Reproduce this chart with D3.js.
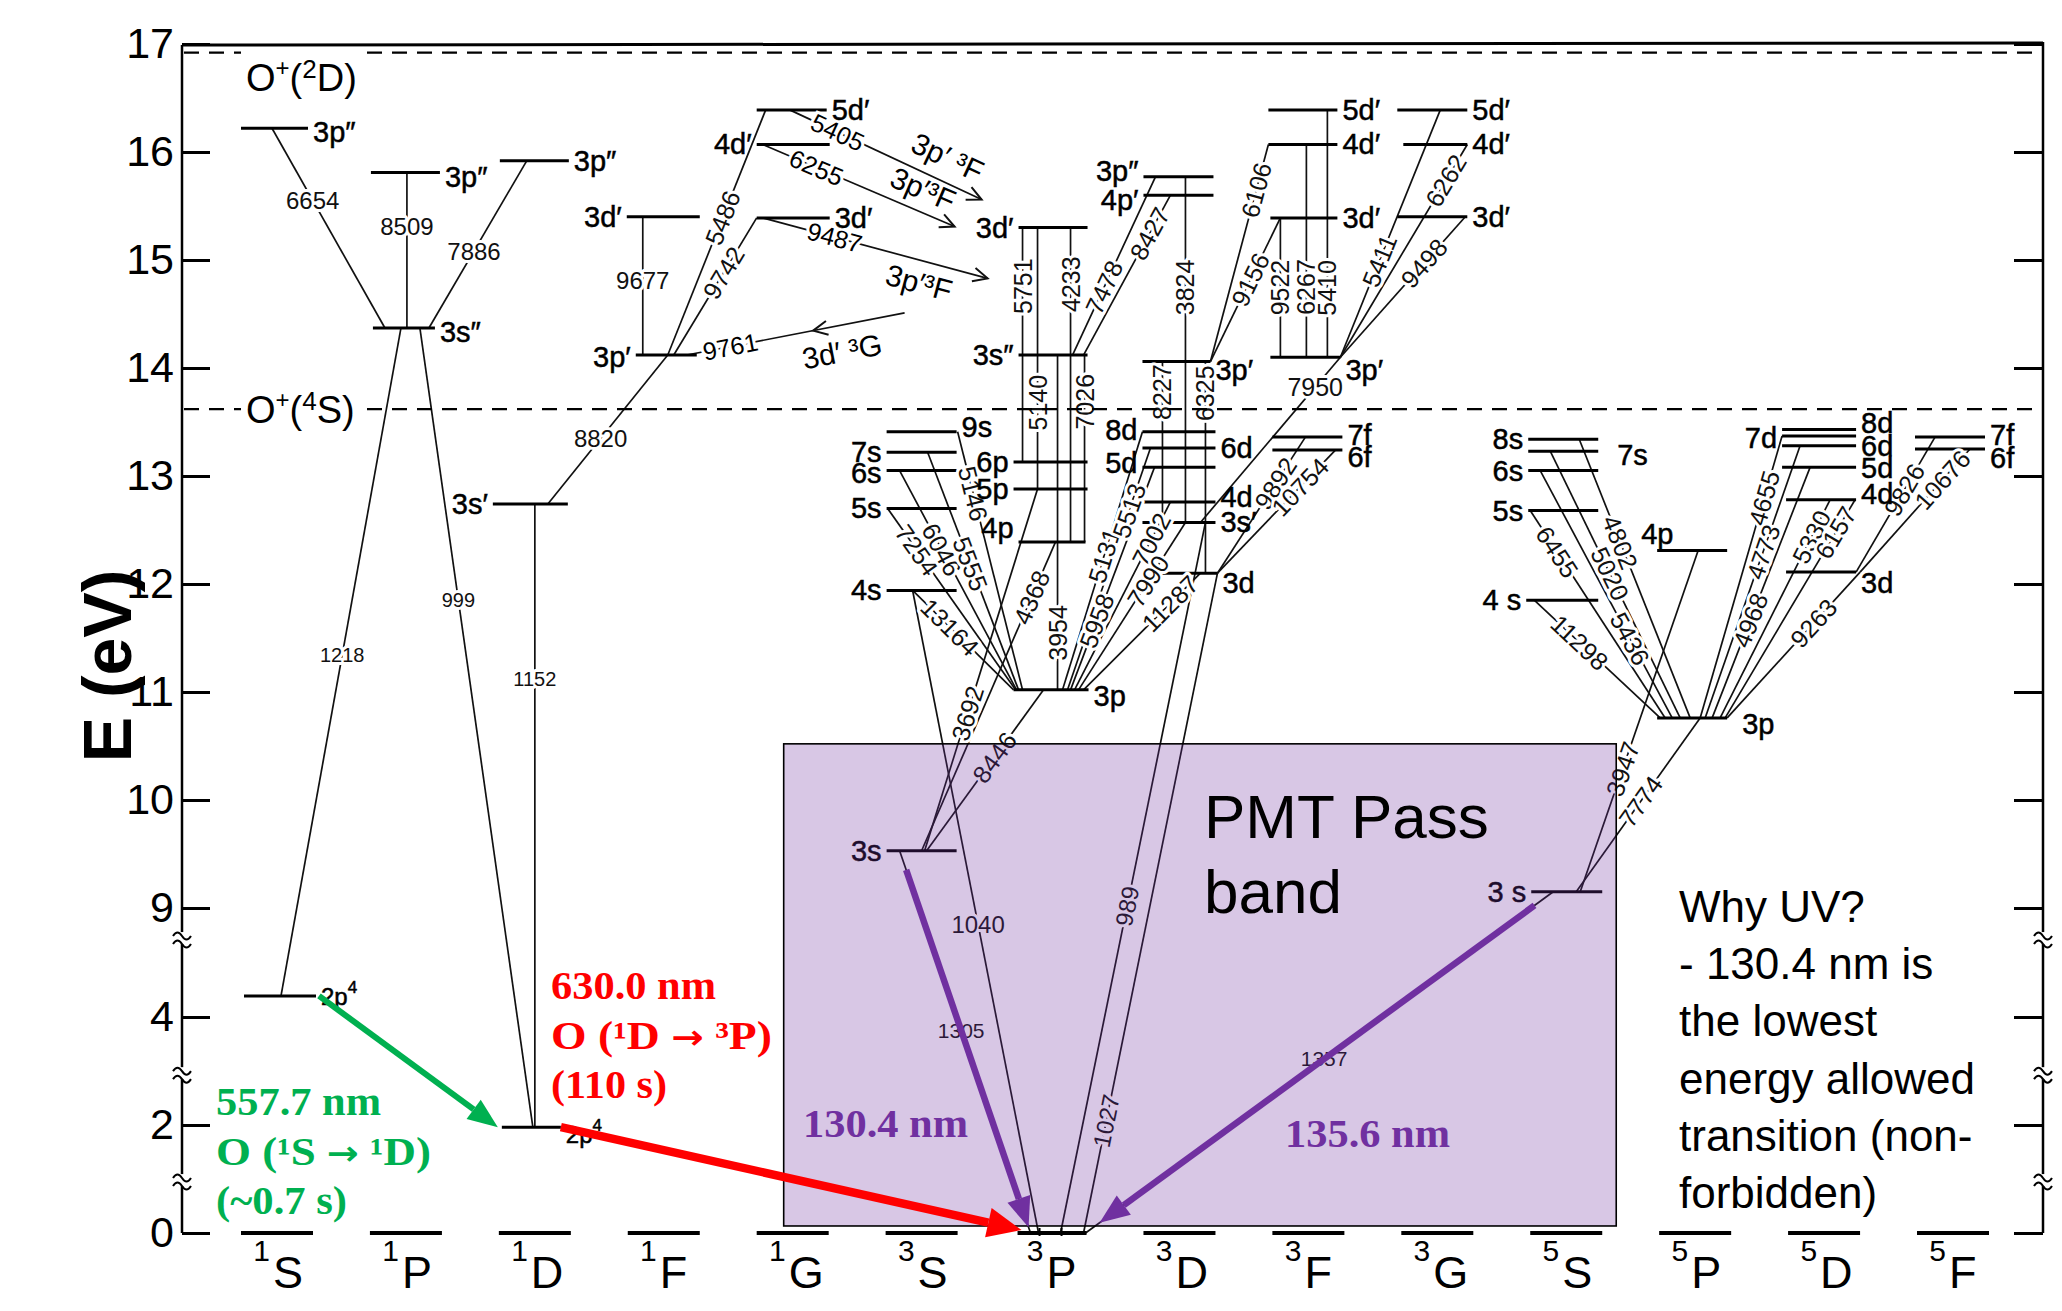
<!DOCTYPE html>
<html><head><meta charset="utf-8">
<script src="https://cdn.jsdelivr.net/npm/d3@7"></script>
<style>
html,body{margin:0;padding:0;background:#fff;}
svg{display:block;}
</style></head><body>
<svg id="chart" width="2062" height="1311"></svg>
<script>
// ================= DATA =================
const terms = ["1S","1P","1D","1F","1G","3S","3P","3D","3F","3G","5S","5P","5D","5F"];
const termMult = ["1","1","1","1","1","3","3","3","3","3","5","5","5","5"];
const termLetter = ["S","P","D","F","G","S","P","D","F","G","S","P","D","F"];
const energyTicks = [0,2,4,9,10,11,12,13,14,15,16,17];
const axisBreaks = [0.98, 2.96, 7.35];
const ionLimits = [{ion:"O", charge:"+", mult:"2", L:"D", E:16.92},{ion:"O", charge:"+", mult:"4", L:"S", E:13.62}];

const levels = [
 {id:"s1_2p4", term:"1S", cfg:"2p⁴", E:4.39},
 {id:"s1_3pp", term:"1S", cfg:"3p″", E:16.22},
 {id:"p1_3pp", term:"1P", cfg:"3p″", E:15.81},
 {id:"p1_3spp", term:"1P", cfg:"3s″", E:14.37},
 {id:"d1_3pp", term:"1D", cfg:"3p″", E:15.92},
 {id:"d1_3sp", term:"1D", cfg:"3s′", E:12.74},
 {id:"d1_2p4", term:"1D", cfg:"2p⁴", E:1.96},
 {id:"f1_3dp", term:"1F", cfg:"3d′", E:15.40},
 {id:"f1_3pp", term:"1F", cfg:"3p′", E:14.12},
 {id:"g1_5dp", term:"1G", cfg:"5d′", E:16.39},
 {id:"g1_4dp", term:"1G", cfg:"4d′", E:16.07},
 {id:"g1_3dp", term:"1G", cfg:"3d′", E:15.39},
 {id:"s3_9s", term:"3S", cfg:"9s", E:13.41},
 {id:"s3_7s", term:"3S", cfg:"7s", E:13.22},
 {id:"s3_6s", term:"3S", cfg:"6s", E:13.05},
 {id:"s3_5s", term:"3S", cfg:"5s", E:12.70},
 {id:"s3_4s", term:"3S", cfg:"4s", E:11.94},
 {id:"s3_3s", term:"3S", cfg:"3s", E:9.53},
 {id:"p3_3dp", term:"3P", cfg:"3d′", E:15.30},
 {id:"p3_3spp", term:"3P", cfg:"3s″", E:14.12},
 {id:"p3_6p", term:"3P", cfg:"6p", E:13.13},
 {id:"p3_5p", term:"3P", cfg:"5p", E:12.88},
 {id:"p3_4p", term:"3P", cfg:"4p", E:12.39},
 {id:"p3_3p", term:"3P", cfg:"3p", E:11.02},
 {id:"d3_3ppp", term:"3D", cfg:"3p″", E:15.77},
 {id:"d3_4pp", term:"3D", cfg:"4p′", E:15.60},
 {id:"d3_3pp", term:"3D", cfg:"3p′", E:14.06},
 {id:"d3_8d", term:"3D", cfg:"8d", E:13.41},
 {id:"d3_6d", term:"3D", cfg:"6d", E:13.26},
 {id:"d3_5d", term:"3D", cfg:"5d", E:13.08},
 {id:"d3_4d", term:"3D", cfg:"4d", E:12.76},
 {id:"d3_3sp", term:"3D", cfg:"3s′", E:12.57},
 {id:"d3_3d", term:"3D", cfg:"3d", E:12.10},
 {id:"f3_5dp", term:"3F", cfg:"5d′", E:16.39},
 {id:"f3_4dp", term:"3F", cfg:"4d′", E:16.07},
 {id:"f3_3dp", term:"3F", cfg:"3d′", E:15.39},
 {id:"f3_3pp", term:"3F", cfg:"3p′", E:14.10},
 {id:"f3_7f", term:"3F", cfg:"7f", E:13.36},
 {id:"f3_6f", term:"3F", cfg:"6f", E:13.24},
 {id:"g3_5dp", term:"3G", cfg:"5d′", E:16.39},
 {id:"g3_4dp", term:"3G", cfg:"4d′", E:16.07},
 {id:"g3_3dp", term:"3G", cfg:"3d′", E:15.40},
 {id:"s5_8s", term:"5S", cfg:"8s", E:13.34},
 {id:"s5_7s", term:"5S", cfg:"7s", E:13.23},
 {id:"s5_6s", term:"5S", cfg:"6s", E:13.05},
 {id:"s5_5s", term:"5S", cfg:"5s", E:12.68},
 {id:"s5_4s", term:"5S", cfg:"4 s", E:11.85},
 {id:"s5_3s", term:"5S", cfg:"3 s", E:9.15},
 {id:"p5_4p", term:"5P", cfg:"4p", E:12.31},
 {id:"p5_3p", term:"5P", cfg:"3p", E:10.76},
 {id:"d5_8d", term:"5D", cfg:"8d", E:13.43},
 {id:"d5_7d", term:"5D", cfg:"7d", E:13.37},
 {id:"d5_6d", term:"5D", cfg:"6d", E:13.28},
 {id:"d5_5d", term:"5D", cfg:"5d", E:13.08},
 {id:"d5_4d", term:"5D", cfg:"4d", E:12.78},
 {id:"d5_3d", term:"5D", cfg:"3d", E:12.11},
 {id:"f5_7f", term:"5F", cfg:"7f", E:13.36},
 {id:"f5_6f", term:"5F", cfg:"6f", E:13.25}
];
const groundLevels = terms.map(t => ({id:"g_"+t, term:t, cfg:"", E:0}));

// transitions: wavelength (Å), upper level, lower level
const transitions = [
 ["6654","s1_3pp","p1_3spp"],["8509","p1_3pp","p1_3spp"],["7886","d1_3pp","p1_3spp"],
 ["1218","p1_3spp","s1_2p4"],["999","p1_3spp","d1_2p4"],["1152","d1_3sp","d1_2p4"],
 ["8820","d1_3sp","f1_3pp"],["9677","f1_3dp","f1_3pp"],["5486","f1_3pp","g1_5dp"],
 ["9742","f1_3pp","g1_3dp"],
 ["5751","p3_3dp","p3_6p"],["5140","p3_3dp","p3_5p"],["4233","p3_3dp","p3_4p"],
 ["7026","p3_3spp","p3_4p"],["3954","p3_3spp","p3_3p"],
 ["4368","p3_4p","s3_3s"],["3692","p3_5p","s3_3s"],["8446","p3_3p","s3_3s"],
 ["13164","s3_4s","p3_3p"],["7254","s3_5s","p3_3p"],["6046","s3_6s","p3_3p"],
 ["5555","s3_7s","p3_3p"],["5146","s3_9s","p3_3p"],
 ["1040","s3_4s","g_3P"],["1305","s3_3s","g_3P"],
 ["5131","d3_8d","p3_3p"],["5513","d3_6d","p3_3p"],["5958","d3_5d","p3_3p"],
 ["7002","d3_4d","p3_3p"],["7990","d3_3sp","p3_3p"],["11287","d3_3d","p3_3p"],
 ["3824","d3_3ppp","d3_3sp"],["8227","d3_3pp","d3_3sp"],["6325","d3_3pp","d3_3d"],
 ["7478","d3_3ppp","p3_3spp"],["8427","d3_4pp","p3_3spp"],
 ["6106","f3_4dp","d3_3pp"],["9156","f3_3dp","d3_3pp"],["7950","f3_3pp","d3_3sp"],
 ["9522","f3_3dp","f3_3pp"],["6267","f3_4dp","f3_3pp"],["5410","f3_5dp","f3_3pp"],
 ["5411","g3_5dp","f3_3pp"],["6262","g3_4dp","f3_3pp"],["9498","g3_3dp","f3_3pp"],
 ["9892","f3_7f","d3_3d"],["10754","f3_6f","d3_3d"],
 ["989","d3_3sp","g_3P"],["1027","d3_3d","g_3P"],
 ["11298","s5_4s","p5_3p"],["6455","s5_5s","p5_3p"],["5436","s5_6s","p5_3p"],
 ["5020","s5_7s","p5_3p"],["4802","s5_8s","p5_3p"],
 ["4655","d5_7d","p5_3p"],["4773","d5_6d","p5_3p"],["4968","d5_5d","p5_3p"],
 ["5330","d5_4d","p5_3p"],["6157","d5_4d","p5_3p"],["9263","d5_3d","p5_3p"],
 ["9826","f5_7f","d5_3d"],["10676","f5_6f","d5_3d"],
 ["7774","p5_3p","s5_3s"],["3947","p5_4p","s5_3s"],
 ["1357","s5_3s","g_3P"]
];

// transitions leaving the figure region (to 3p' 3F, from 3d' 3G)
const outArrows = [
 {wl:"5405", level:"g1_5dp", toTerm:"3S", toE:15.56, note:"3p′ ³F", dir:"out"},
 {wl:"6255", level:"g1_4dp", toTerm:"3S", toE:15.31, note:"3p′³F", dir:"out"},
 {wl:"9487", level:"g1_3dp", toTerm:"3S", toE:14.83, note:"3p′³F", dir:"out"},
 {wl:"9761", level:"f1_3pp", toTerm:"3S", toE:14.51, note:"3d′ ³G", dir:"in"}
];

const highlightLines = [
 {name:"557.7", from:"s1_2p4", to:"d1_2p4", color:"#00b050"},
 {name:"630.0", from:"d1_2p4", to:"g_3P", color:"#ff0000"},
 {name:"130.4", along:"1305", color:"#7030a0"},
 {name:"135.6", along:"1357", color:"#7030a0"}
];
const noteGreen = [["557.7 nm"],["O (¹S ","→"," ¹D)"],["(~0.7 s)"]];
const noteRed = [["630.0 nm"],["O (¹D ","→"," ³P)"],["(110 s)"]];
const notePurple = ["130.4 nm","135.6 nm"];
const bandText = ["PMT Pass","band"];
const bandE = [0.13, 10.52];
const whyText = ["Why UV?","- 130.4 nm is","the lowest","energy allowed","transition (non-","forbidden)"];

// ================= LAYOUT (positions / styles) =================
// level: [dx0, dx1, labelSide, labelDx, labelDy, fontSize]
const levelLayout = {
 s1_2p4:[-33,39,"r",0,0,24], s1_3pp:[-36,31,"r",0,4], p1_3pp:[-35,34,"r",0,4], p1_3spp:[-33,29,"r",0,4],
 d1_3pp:[-35,34,"r",0,0], d1_3sp:[-42,33,"l",0,0], d1_2p4:[-33,26,"r",0,7,24],
 f1_3dp:[-37,36,"l",0,0], f1_3pp:[-28,33,"l",0,2],
 g1_5dp:[-36,34,"r",0,0], g1_4dp:[-36,37,"l",0,0], g1_3dp:[-36,37,"r",0,0],
 s3_9s:[-35,35,"r",0,-5], s3_7s:[-35,35,"l",0,0], s3_6s:[-35,35,"l",0,2], s3_5s:[-35,35,"l",0,0],
 s3_4s:[-35,35,"l",0,0], s3_3s:[-35,35,"l",0,0],
 p3_3dp:[-32,37,"l",0,0], p3_3spp:[-32,37,"l",0,0], p3_6p:[-37,37,"l",0,0], p3_5p:[-37,37,"l",0,0],
 p3_4p:[-32,35,"l",0,-14], p3_3p:[-37,38,"r",0,6],
 d3_3ppp:[-36,34,"l",0,-6], d3_4pp:[-36,34,"l",0,5], d3_3pp:[-37,31,"r",0,8],
 d3_8d:[-37,36,"l",0,-2], d3_6d:[-37,36,"r",0,0], d3_5d:[-37,36,"l",0,-4], d3_4d:[-37,36,"r",0,-5],
 d3_3sp:[-37,36,"r",0,0], d3_3d:[-19,38,"r",0,10],
 f3_5dp:[-40,29,"r",0,0], f3_4dp:[-40,29,"r",0,0], f3_3dp:[-38,29,"r",0,0], f3_3pp:[-38,32,"r",0,13],
 f3_7f:[-36,34,"r",0,-2], f3_6f:[-36,34,"r",0,7],
 g3_5dp:[-40,30,"r",0,0], g3_4dp:[-34,30,"r",0,0], g3_3dp:[-40,30,"r",0,0],
 s5_8s:[-38,32,"l",0,0], s5_7s:[-38,32,"r",14,4], s5_6s:[-38,32,"l",0,0], s5_5s:[-38,32,"l",0,0],
 s5_4s:[-40,32,"l",0,0], s5_3s:[-35,36,"l",0,0],
 p5_4p:[-38,32,"a",-16,-17], p5_3p:[-38,32,"r",10,6],
 d5_8d:[-42,32,"r",0,-7], d5_7d:[-42,32,"l",0,2], d5_6d:[-42,32,"r",0,0], d5_5d:[-42,32,"r",0,1],
 d5_4d:[-38,32,"r",0,-6], d5_3d:[-38,32,"r",0,11],
 f5_7f:[-38,32,"r",0,-2], f5_6f:[-38,32,"r",0,9]
};
// transition: [fromDx, toDx, labelT, mode(h=horizontal, r=along line), fontSize]
const transLayout = {
 "6654":[-5,-21,0.36,"h",24], "8509":[1,1,0.35,"h",24], "7886":[-8,23,0.54,"h",24],
 "1218":[-5,4,0.49,"h",20], "999":[14,-2,0.34,"h",20], "1152":[0,0,0.28,"h",20],
 "8820":[13,4,0.44,"h",24], "9677":[-21,-21,0.46,"h",24], "5486":[4,-27,0.56,"r",25],
 "9742":[10,-36,0.6,"r",25],
 "5751":[-28,-28,0.25,"r",25], "5140":[-13,-13,0.67,"r",25], "4233":[20,20,0.18,"r",25],
 "7026":[34,34,0.25,"r",25], "3954":[7,7,0.83,"r",25],
 "4368":[5,0,0.18,"r",25], "3692":[-13,3,0.62,"r",25], "8446":[-7,5,0.42,"r",25],
 "13164":[-9,-37,0.37,"r",25], "7254":[-34,-35,0.23,"r",25], "6046":[-22,-34,0.36,"r",25],
 "5555":[6,-32,0.47,"r",25], "5146":[36,-28,0.24,"r",25],
 "1040":[-9,-12,0.52,"h",24], "1305":[-22,-20,0.47,"h",21],
 "5131":[-37,12,0.48,"r",25], "5513":[-29,17,0.26,"r",25], "5958":[-25,20,0.69,"r",25],
 "7002":[-9,24,0.2,"r",25], "7990":[6,28,0.35,"r",25], "11287":[21,33,0.26,"r",25],
 "3824":[6,6,0.32,"r",25], "8227":[-17,-17,0.19,"r",25], "6325":[26,26,0.15,"r",25],
 "7478":[-24,22,0.62,"r",25], "8427":[-9,33,0.24,"r",25],
 "6106":[-40,31,0.21,"r",25], "9156":[-28,31,0.43,"r",25], "7950":[32,21,0.18,"h",25],
 "9522":[-28,-28,0.5,"r",25], "6267":[-2,-2,0.67,"r",25], "5410":[19,19,0.72,"r",25],
 "5411":[3,32,0.61,"r",25], "6262":[30,32,0.17,"r",25], "9498":[28,32,0.33,"r",25],
 "9892":[-3,38,0.34,"r",25], "10754":[27,38,0.3,"r",25],
 "989":[26,10,0.54,"r",24], "1027":[38,33,0.83,"r",24],
 "11298":[-32,-35,0.36,"r",25], "6455":[-36,-30,0.2,"r",25], "5436":[-26,-23,0.68,"r",25],
 "5020":[-16,-15,0.46,"r",25], "4802":[13,-5,0.37,"r",25],
 "4655":[-42,5,0.22,"r",25], "4773":[-24,10,0.39,"r",25], "4968":[-14,17,0.61,"r",25],
 "5330":[6,25,0.17,"r",25], "6157":[31,30,0.15,"r",25], "9263":[36,32,0.35,"r",25],
 "9826":[-18,32,0.39,"r",25], "10676":[17,36,0.25,"r",25],
 "7774":[5,10,0.48,"r",25], "3947":[3,14,0.64,"r",25],
 "1357":[-13,35,0.49,"h",21]
};
// out arrows: [levelDx, toDx, labelT, noteT, noteOffset, headT]
const outLayout = {
 "5405":[-3,60,0.25,0.77,-24,1], "6255":[-30,33,0.28,0.79,-22,1],
 "9487":[-30,66,0.32,0.72,22,1], "9761":[23,-17,0.2,0.69,26,0.58]
};

// ================= DRAW =================
const sans = "'Liberation Sans', Arial, Helvetica, sans-serif";
const serif = "'Liberation Serif', 'Times New Roman', serif";
const svg = d3.select("#chart");
const x = d3.scalePoint().domain(terms).range([277,1953]);
const y = d3.scaleLinear().domain([0,4.5,9,17]).range([1233,990,908,44]);
const xL = 182, xR = 2043, yTop = 45;

const allLevels = levels.concat(groundLevels);
const levelById = new Map(allLevels.map(d => [d.id, d]));
function pt(id, dx){ const l = levelById.get(id); return [x(l.term)+dx, y(l.E)]; }

const gLines = svg.append("g");
const gLevels = svg.append("g");
const gLabels = svg.append("g");

// frame top
svg.append("line").attr("x1",xL).attr("x2",xR).attr("y1",yTop).attr("y2",yTop-2)
  .attr("stroke","#000").attr("stroke-width",3);

// axes
const axL = d3.axisLeft(y).tickValues(energyTicks).tickSizeInner(-28).tickSizeOuter(0).tickPadding(8);
const gAxL = svg.append("g").attr("transform",`translate(${xL},0)`).call(axL);
gAxL.selectAll(".domain").attr("stroke","#000").attr("stroke-width",2.5).attr("d",`M0,${yTop}V${y(0)}`);
gAxL.selectAll(".tick line").attr("stroke","#000").attr("stroke-width",3);
gAxL.selectAll(".tick text").attr("font-size",43).attr("font-family",sans).attr("fill","#000");
const axR = d3.axisRight(y).tickValues(energyTicks).tickSizeInner(-29).tickSizeOuter(0).tickFormat("");
const gAxR = svg.append("g").attr("transform",`translate(${xR},0)`).call(axR);
gAxR.selectAll(".domain").attr("stroke","#000").attr("stroke-width",2.5).attr("d",`M0,${yTop-3}V${y(0)}`);
gAxR.selectAll(".tick line").attr("stroke","#000").attr("stroke-width",3);

// axis breaks
[xL, xR].forEach(ax => {
  axisBreaks.forEach(E => {
    const yy = y(E);
    svg.append("rect").attr("x",ax-8).attr("y",yy-6).attr("width",16).attr("height",12).attr("fill","#fff");
    [-4,4].forEach(o => svg.append("path")
      .attr("d",`M${ax-9},${yy+o+2}q4.5,-7 9,0t9,0`)
      .attr("fill","none").attr("stroke","#000").attr("stroke-width",2));
  });
});

// axis title
svg.append("text").attr("transform","translate(131,666) rotate(-90)")
  .attr("text-anchor","middle").attr("font-family",sans).attr("font-weight","bold")
  .attr("font-size",68).text("E (eV)");

// ionization limits
ionLimits.forEach((d,i) => {
  const yy = y(d.E);
  [[xL+2,241],[367,xR-3]].forEach(seg => svg.append("line")
    .attr("x1",seg[0]).attr("x2",seg[1]).attr("y1",yy).attr("y2",yy)
    .attr("stroke","#000").attr("stroke-width",2.2).attr("stroke-dasharray","15,10"));
  const t = svg.append("text").attr("x",246).attr("y", i===0 ? yy+38 : yy+14)
    .attr("font-family",sans).attr("font-size",38);
  t.append("tspan").text(d.ion);
  t.append("tspan").attr("font-size",24).attr("dy",-15).text(d.charge);
  t.append("tspan").attr("dy",15).text("(");
  t.append("tspan").attr("font-size",26).attr("dy",-13).text(d.mult);
  t.append("tspan").attr("dy",13).text(d.L + ")");
});

// transitions
transitions.forEach(([wl, from, to]) => {
  const L = transLayout[wl];
  const p1 = pt(from, L[0]), p2 = pt(to, L[1]);
  gLines.append("line").attr("x1",p1[0]).attr("y1",p1[1]).attr("x2",p2[0]).attr("y2",p2[1])
    .attr("stroke","#111").attr("stroke-width",1.7);
  const t = L[2];
  const lx = p1[0]+t*(p2[0]-p1[0]), ly = p1[1]+t*(p2[1]-p1[1]);
  let ang = 0;
  if (L[3]==="r") {
    ang = Math.atan2(p2[1]-p1[1], p2[0]-p1[0])*180/Math.PI;
    if (ang >= 90) ang -= 180;
    if (ang < -90) ang += 180;
  }
  gLabels.append("text").attr("transform",`translate(${lx},${ly}) rotate(${ang})`)
    .attr("text-anchor","middle").attr("dominant-baseline","central")
    .attr("font-family",sans).attr("font-size",L[4]||24)
    .attr("stroke","#fff").attr("stroke-width",6).attr("stroke-linejoin","round")
    .attr("paint-order","stroke").attr("fill","#111").text(wl);
});

// out arrows
outArrows.forEach(a => {
  const L = outLayout[a.wl];
  const p1 = pt(a.level, L[0]);
  const p2 = [x(a.toTerm)+L[1], y(a.toE)];
  gLines.append("line").attr("x1",p1[0]).attr("y1",p1[1]).attr("x2",p2[0]).attr("y2",p2[1])
    .attr("stroke","#111").attr("stroke-width",1.7);
  const ang = Math.atan2(p2[1]-p1[1], p2[0]-p1[0]);
  const ht = L[5];
  const hx = p1[0]+ht*(p2[0]-p1[0]), hy = p1[1]+ht*(p2[1]-p1[1]);
  const dirAng = a.dir==="out" ? ang : ang+Math.PI;
  const hl = 16, hw = 0.45;
  const path = `M${hx-hl*Math.cos(dirAng-hw)},${hy-hl*Math.sin(dirAng-hw)}L${hx},${hy}L${hx-hl*Math.cos(dirAng+hw)},${hy-hl*Math.sin(dirAng+hw)}`;
  gLines.append("path").attr("d",path).attr("fill","none").attr("stroke","#111").attr("stroke-width",2);
  let deg = ang*180/Math.PI; if (deg>=90) deg-=180; if (deg< -90) deg+=180;
  const lx = p1[0]+L[2]*(p2[0]-p1[0]), ly = p1[1]+L[2]*(p2[1]-p1[1]);
  gLabels.append("text").attr("transform",`translate(${lx},${ly}) rotate(${deg})`)
    .attr("text-anchor","middle").attr("dominant-baseline","central")
    .attr("font-family",sans).attr("font-size",25)
    .attr("stroke","#fff").attr("stroke-width",6).attr("paint-order","stroke").text(a.wl);
  const nx = p1[0]+L[3]*(p2[0]-p1[0]), ny = p1[1]+L[3]*(p2[1]-p1[1]);
  gLabels.append("text").attr("transform",`translate(${nx},${ny}) rotate(${deg}) translate(0,${L[4]})`)
    .attr("text-anchor","middle").attr("dominant-baseline","central")
    .attr("font-family",sans).attr("font-size",30).text(a.note);
});

// levels
levels.forEach(l => {
  const L = levelLayout[l.id];
  const cx = x(l.term), yy = y(l.E);
  gLevels.append("line").attr("x1",cx+L[0]).attr("x2",cx+L[1]).attr("y1",yy).attr("y2",yy)
    .attr("stroke","#000").attr("stroke-width",3);
  let tx, anchor;
  if (L[2]==="r") { tx = cx+L[1]+5+L[3]; anchor = "start"; }
  else if (L[2]==="l") { tx = cx+L[0]-5+L[3]; anchor = "end"; }
  else { tx = cx+L[0]+L[3]; anchor = "start"; }
  const t = gLabels.append("text").attr("x",tx).attr("y",yy+L[4]).attr("text-anchor",anchor)
    .attr("dominant-baseline","central").attr("font-family",sans)
    .attr("font-size",L[5]||29).attr("stroke","#000").attr("stroke-width",0.5);
  if (l.cfg.endsWith("⁴")) {
    t.append("tspan").text(l.cfg.slice(0,-1));
    t.append("tspan").attr("font-size",17).attr("dy",-9).text("4");
  } else t.text(l.cfg);
});

// ground levels and term labels
groundLevels.forEach((g,i) => {
  const cx = x(g.term), yy = y(0);
  if (g.term === "3P") {
    [[-33,-11],[-11,11],[11,36]].forEach(s => gLevels.append("line")
      .attr("x1",cx+s[0]).attr("x2",cx+s[1]).attr("y1",yy).attr("y2",yy)
      .attr("stroke","#000").attr("stroke-width",4));
    [-11,11].forEach(s => gLevels.append("line").attr("x1",cx+s).attr("x2",cx+s)
      .attr("y1",yy-5).attr("y2",yy+3).attr("stroke","#000").attr("stroke-width",2));
  } else {
    gLevels.append("line").attr("x1",cx-36).attr("x2",cx+36).attr("y1",yy).attr("y2",yy)
      .attr("stroke","#000").attr("stroke-width",4);
  }
  svg.append("text").attr("x",cx-7).attr("y",1261).attr("text-anchor","end")
    .attr("font-family",sans).attr("font-size",30).text(termMult[i]);
  svg.append("text").attr("x",cx-4).attr("y",1288).attr("text-anchor","start")
    .attr("font-family",sans).attr("font-size",45).text(termLetter[i]);
});

// PMT pass band (semi-transparent overlay)
const bx0 = x("1G")-9, bx1 = x("5S")+50, by0 = y(bandE[1]), by1 = y(bandE[0]);
svg.append("rect").attr("x",bx0).attr("y",by0).attr("width",bx1-bx0).attr("height",by1-by0)
  .attr("fill","#7030a0").attr("fill-opacity",0.27);
svg.append("rect").attr("x",bx0).attr("y",by0).attr("width",bx1-bx0).attr("height",by1-by0)
  .attr("fill","none").attr("stroke","#000").attr("stroke-width",1.6);

// highlighted arrows
function fatArrow(p1, p2, color, w, hl, hw) {
  const a = Math.atan2(p2[1]-p1[1], p2[0]-p1[0]);
  const bx = p2[0]-hl*Math.cos(a), by = p2[1]-hl*Math.sin(a);
  svg.append("line").attr("x1",p1[0]).attr("y1",p1[1]).attr("x2",bx).attr("y2",by)
    .attr("stroke",color).attr("stroke-width",w);
  const px = -Math.sin(a)*hw/2, py = Math.cos(a)*hw/2;
  svg.append("path").attr("d",`M${p2[0]},${p2[1]}L${bx+px},${by+py}L${bx-px},${by-py}Z`).attr("fill",color);
}
const transMap = new Map(transitions.map(t => [t[0], t]));
highlightLines.forEach(h => {
  if (h.along) {
    const tr = transMap.get(h.along), L = transLayout[h.along];
    const p1 = pt(tr[1], L[0]), p2 = pt(tr[2], L[1]);
    const t0 = h.along==="1305" ? 0.05 : 0.04, t1 = h.along==="1305" ? 0.985 : 0.97;
    const a = [p1[0]+t0*(p2[0]-p1[0]), p1[1]+t0*(p2[1]-p1[1])];
    const b = [p1[0]+t1*(p2[0]-p1[0]), p1[1]+t1*(p2[1]-p1[1])];
    fatArrow(a, b, h.color, 6.5, 30, 24);
  } else if (h.name==="557.7") {
    fatArrow(pt(h.from, 42), pt(h.to, -37), h.color, 6, 30, 24);
  } else {
    const p2 = pt(h.to, -29); p2[1] -= 3;
    fatArrow(pt(h.from, 26), p2, h.color, 8.5, 34, 30);
  }
});

// colored annotation text
function textBlock(lines, x0, yb, color, lens) {
  lines.forEach((parts,i) => {
    const t = svg.append("text").attr("x",x0).attr("y",yb+i*49.5)
      .attr("font-family",serif).attr("font-weight","bold").attr("font-size",40)
      .attr("fill",color).attr("textLength",lens[i]).attr("lengthAdjust","spacingAndGlyphs");
    parts.forEach(p => {
      const s = t.append("tspan").text(p);
      if (p === "→") s.attr("font-family","'DejaVu Sans', sans-serif").attr("font-weight","bold").attr("font-size",34);
    });
  });
}
textBlock(noteRed, 551, 999, "#ff0000", [165,221,116]);
textBlock(noteGreen, 216, 1115, "#00b050", [165,215,131]);
textBlock([[notePurple[0]]], 803, 1137, "#7030a0", [165]);
textBlock([[notePurple[1]]], 1285, 1147, "#7030a0", [165]);

// band text
bandText.forEach((s,i) => svg.append("text").attr("x",1204).attr("y",838+i*75)
  .attr("font-family",sans).attr("font-size",62).attr("fill","#000").text(s));
// why text
whyText.forEach((s,i) => svg.append("text").attr("x",1679).attr("y",922+i*57.2)
  .attr("font-family",sans).attr("font-size",44).attr("fill","#000").text(s));
</script>
</body></html>
